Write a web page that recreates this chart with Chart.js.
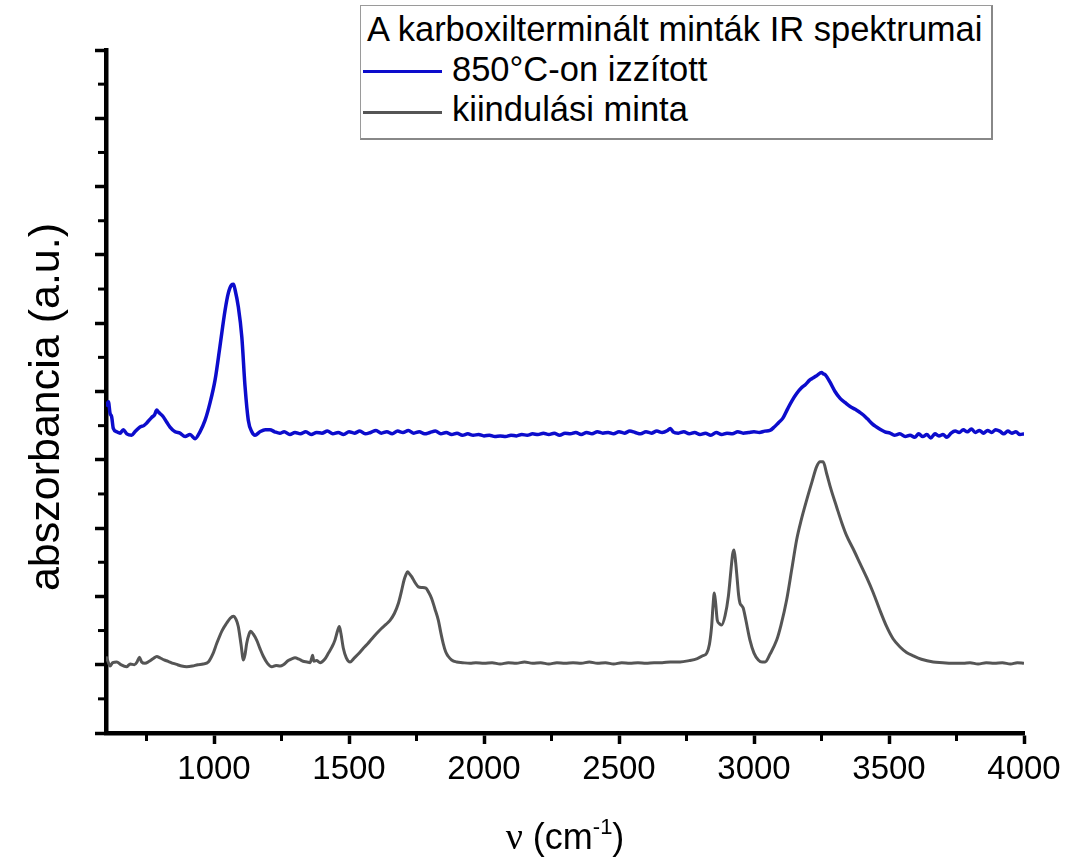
<!DOCTYPE html>
<html>
<head>
<meta charset="utf-8">
<script src="https://cdn.jsdelivr.net/npm/chart.js@4.4.1/dist/chart.umd.min.js"></script>
<style>
 body{margin:0;background:#fff;}
 #wrap{position:relative;width:1089px;height:865px;}
 #legend{position:absolute;left:360px;top:5px;width:633px;height:135px;box-sizing:border-box;border:1px solid #9a9a9a;border-right:2px solid #888;border-bottom:2px solid #888;background:#fff;font-family:"Liberation Sans",Arial,sans-serif;font-size:34.5px;color:#000;padding:3px 0 0 6px;}
 #legend .ttl{line-height:40px;white-space:nowrap;}
 #legend .row{display:flex;align-items:center;height:40.5px;white-space:nowrap;margin-left:-4px;}
 #legend .smp{width:79px;height:3px;margin-right:10px;margin-top:5px;}
</style>
</head>
<body>
<div id="wrap">
 <canvas id="ir_spektrum" width="1089" height="865"></canvas>
 <div id="legend"></div>
</div>
<script>
// hullamszam (cm-1) es abszorbancia, leolvasva
var wnIzzitott = [600,609,615,621,627,640,652,664,677,695,707,726,740,751,769,780,788,794,812,825,837,856,874,893,911,930,948,967,985,1004,1022,1041,1053,1065,1072,1078,1090,1103,1115,1127,1140,1152,1170,1190,1207,1225,1244,1260,1281,
	1300,1320,1340,1360,1380,1400,1420,1440,1460,1480,1500,1520,1540,1560,1580,1600,1620,1640,1660,1680,1700,1720,1740,1760,1780,1800,1820,1840,1860,1880,1900,1920,1940,1960,1980,
	2000,2020,2040,2060,2080,2100,2120,2140,2160,2180,2200,2220,2240,2260,2280,2300,2320,2340,2360,2380,2400,2420,2440,2460,2480,2500,2520,2540,2560,2580,2600,2620,2640,2660,2680,2690,
	2700,2720,2740,2760,2780,2800,2820,2840,2860,2880,2900,2920,2940,2960,2980,3000,3020,3040,3059,3075,3090,3107,3125,3140,3158,3175,3190,3207,3220,3235,3250,3256,3265,3281,3300,3319,3337,3356,3375,3390,
	3404,3420,3437,3454,3470,3485,3504,3520,3540,3560,3578,3595,3610,3625,3640,3655,3670,3685,3700,3715,3730,3745,3760,3775,3790,3805,3820,3835,3850,3865,3880,3895,3910,3925,3940,3955,3970,3985,4000];
var absIzzitott = [4.78,4.85,4.68,4.63,4.46,4.41,4.39,4.44,4.38,4.36,4.41,4.48,4.50,4.54,4.62,4.66,4.73,4.70,4.63,4.55,4.48,4.41,4.39,4.34,4.37,4.31,4.41,4.58,4.83,5.17,5.66,6.19,6.44,6.56,6.57,6.49,6.24,5.80,5.07,4.58,4.41,4.36,4.41,4.44,4.44,4.41,4.39,4.41,4.37,
	4.40,4.38,4.41,4.37,4.40,4.39,4.42,4.38,4.40,4.37,4.41,4.39,4.42,4.38,4.40,4.43,4.39,4.41,4.38,4.42,4.40,4.43,4.39,4.41,4.38,4.40,4.42,4.38,4.40,4.37,4.39,4.36,4.38,4.36,4.37,
	4.35,4.36,4.34,4.35,4.34,4.36,4.35,4.37,4.36,4.38,4.37,4.39,4.37,4.39,4.36,4.39,4.38,4.40,4.37,4.40,4.38,4.41,4.39,4.40,4.38,4.41,4.39,4.42,4.40,4.38,4.41,4.39,4.42,4.40,4.43,4.46,
	4.41,4.39,4.41,4.38,4.40,4.37,4.39,4.36,4.40,4.37,4.39,4.38,4.41,4.39,4.40,4.41,4.40,4.42,4.43,4.48,4.54,4.61,4.75,4.86,4.97,5.05,5.10,5.17,5.20,5.24,5.28,5.26,5.24,5.14,5.00,4.90,4.84,4.78,4.74,4.70,
	4.66,4.60,4.53,4.48,4.44,4.41,4.39,4.36,4.38,4.34,4.36,4.33,4.38,4.34,4.37,4.32,4.38,4.35,4.37,4.33,4.39,4.42,4.40,4.44,4.41,4.45,4.40,4.43,4.39,4.43,4.40,4.44,4.42,4.38,4.42,4.39,4.41,4.37,4.38];

var wnKiindulo = [600,608,615,625,640,655,676,690,705,715,724,732,744,760,775,788,800,815,830,849,865,880,899,920,940,960,979,995,1010,1030,1047,1060,1072,1082,1090,1100,1109,1115,1121,1130,1136,1145,1158,1170,1183,1198,1214,1230,1245,1257,1275,1290,1300,1315,1330,1345,1356,1362,1365,1370,1380,1393,1410,1424,1437,1448,1458,1464,1470,1479,1490,1504,1520,1538,1553,1570,1585,1603,1620,1637,1652,1668,1683,1694,1704,1711,1717,1724,1732,1745,1757,1770,1785,1795,1806,1818,1831,1840,1849,1858,1868,1880,1899,1920,1948,
	1970,2000,2030,2060,2090,2120,2150,2180,2210,2240,2270,2300,2330,2360,2390,2420,2450,2480,2510,2540,2570,2600,2630,2660,2690,2726,2760,2790,2810,2825,2835,2843,2848,2853,2858,2864,2872,2880,2893,2905,2915,2921,2926,2932,2938,2943,2948,2955,2960,2970,2985,3000,3016,3030,3041,3060,3084,3100,3121,3140,3158,3175,3195,3215,3232,3245,3256,3269,3285,3306,3325,3343,3368,3393,3418,3442,3466,3491,3515,3541,3565,3590,3620,3664,3700,3730,3775,3800,3830,3860,3890,3920,3950,3975,4000];
var absKiindulo = [1.12,1.04,0.98,1.03,1.04,1.00,0.97,1.01,1.00,1.04,1.11,1.04,1.02,1.05,1.09,1.12,1.10,1.07,1.05,1.02,1.00,0.98,0.97,0.98,1.00,1.01,1.04,1.15,1.31,1.50,1.61,1.68,1.71,1.66,1.56,1.30,1.07,1.15,1.31,1.45,1.49,1.45,1.36,1.24,1.12,1.02,0.97,0.99,0.98,1.00,1.06,1.09,1.10,1.08,1.05,1.04,1.03,1.10,1.14,1.05,1.06,1.03,1.08,1.17,1.26,1.36,1.50,1.56,1.46,1.24,1.10,1.04,1.10,1.17,1.24,1.31,1.38,1.46,1.53,1.59,1.65,1.75,1.90,2.07,2.24,2.32,2.36,2.33,2.29,2.20,2.14,2.13,2.12,2.06,1.97,1.82,1.65,1.47,1.31,1.19,1.12,1.07,1.04,1.03,1.02,
	1.03,1.02,1.03,1.01,1.03,1.02,1.04,1.02,1.03,1.01,1.03,1.02,1.03,1.02,1.04,1.02,1.03,1.01,1.03,1.02,1.03,1.02,1.03,1.03,1.04,1.04,1.06,1.09,1.13,1.17,1.30,1.56,1.85,2.05,1.90,1.65,1.60,1.58,1.72,2.00,2.40,2.62,2.68,2.50,2.24,2.02,1.90,1.86,1.83,1.65,1.36,1.17,1.07,1.04,1.04,1.16,1.36,1.58,1.95,2.40,2.83,3.12,3.41,3.68,3.90,3.97,3.97,3.80,3.57,3.31,3.08,2.89,2.69,2.48,2.27,2.05,1.80,1.56,1.38,1.26,1.18,1.13,1.08,1.04,1.03,1.02,1.02,1.03,1.01,1.03,1.02,1.03,1.01,1.03,1.02];

var sorozatNevek = ['850°C-on izzított', 'kiindulási minta'];
var szinek = ['#0c0ccc', '#555555'];
var legendCim = 'A karboxilterminált minták IR spektrumai';

var xFoTick = [1000,1500,2000,2500,3000,3500,4000];
var xMellekTick = [750,1250,1750,2250,2750,3250,3750];
var yFoTick = [0,1,2,3,4,5,6,7,8,9,10];
var yMellekTick = [0.5,1.5,2.5,3.5,4.5,5.5,6.5,7.5,8.5,9.5];

function pontok(xs, ys){
	var p = [];
	for (var i = 0; i < xs.length; i++) p.push({x: xs[i], y: ys[i]});
	return p;
}

var tengelyRajz = {
	id: 'tengelyRajz',
	afterDraw: function(chart){
		var ctx = chart.ctx, a = chart.chartArea;
		var sx = chart.scales.x, sy = chart.scales.y;
		ctx.save();
		ctx.strokeStyle = '#000';
		ctx.lineWidth = 3;
		// mellek tickek
		xMellekTick.forEach(function(v){
			var p = sx.getPixelForValue(v);
			ctx.beginPath(); ctx.moveTo(p, a.bottom + 2); ctx.lineTo(p, a.bottom + 8); ctx.stroke();
		});
		yMellekTick.forEach(function(v){
			var p = sy.getPixelForValue(v);
			ctx.beginPath(); ctx.moveTo(a.left - 2, p); ctx.lineTo(a.left - 8, p); ctx.stroke();
		});

		ctx.fillStyle = '#000';
		// y tengely cim
		ctx.save();
		ctx.translate(47, 407);
		ctx.rotate(-Math.PI / 2);
		ctx.font = '43px "Liberation Sans", Arial, sans-serif';
		ctx.textAlign = 'center';
		ctx.textBaseline = 'middle';
		ctx.fillText('abszorbancia (a.u.)', 0, 0);
		ctx.restore();

		// x tengely cim: ν (cm-1)
		var fSans = '36px "Liberation Sans", Arial, sans-serif';
		var fSerif = '38px "Liberation Serif", "Times New Roman", serif';
		var fSup = '22px "Liberation Sans", Arial, sans-serif';
		var darabok = [
			{t: 'ν', f: fSerif, dy: 0},
			{t: ' (cm', f: fSans, dy: 0},
			{t: '-1', f: fSup, dy: -15},
			{t: ')', f: fSans, dy: 0}
		];
		var w = 0;
		darabok.forEach(function(d){ ctx.font = d.f; d.w = ctx.measureText(d.t).width; w += d.w; });
		var x0 = (a.left + a.right) / 2 - w / 2;
		ctx.textAlign = 'left';
		ctx.textBaseline = 'alphabetic';
		darabok.forEach(function(d){ ctx.font = d.f; ctx.fillText(d.t, x0, 849 + d.dy); x0 += d.w; });
		ctx.restore();
	}
};

var chart = new Chart(document.getElementById('ir_spektrum'), {
	type: 'line',
	data: {
		datasets: [{
			label: sorozatNevek[0],
			data: pontok(wnIzzitott, absIzzitott),
			borderColor: szinek[0],
			borderWidth: 3.5,
			pointRadius: 0,
			cubicInterpolationMode: 'monotone',
			fill: false
		}, {
			label: sorozatNevek[1],
			data: pontok(wnKiindulo, absKiindulo),
			borderColor: szinek[1],
			borderWidth: 3,
			pointRadius: 0,
			cubicInterpolationMode: 'monotone',
			fill: false
		}]
	},
	options: {
		responsive: false,
		animation: false,
		layout: { padding: { top: 50, right: 65, left: 0, bottom: 0 } },
		plugins: { legend: { display: false }, tooltip: { enabled: false } },
		scales: {
			x: {
				type: 'linear',
				min: 600,
				max: 4000,
				afterBuildTicks: function(s){ s.ticks = xFoTick.map(function(v){ return {value: v}; }); },
				afterFit: function(s){ s.height = 132; },
				border: { display: true, color: '#000', width: 4.5 },
				grid: { display: true, drawOnChartArea: false, drawTicks: true, tickLength: 11, tickWidth: 3.5, tickColor: '#000' },
				ticks: { color: '#000', padding: 6, maxRotation: 0, font: { family: '"Liberation Sans", Arial, sans-serif', size: 33 },
					callback: function(v){ return String(v); } }
			},
			y: {
				type: 'linear',
				min: 0,
				max: 10,
				afterBuildTicks: function(s){ s.ticks = yFoTick.map(function(v){ return {value: v}; }); },
				afterFit: function(s){ s.width = 106; },
				border: { display: true, color: '#000', width: 4.5 },
				grid: { display: true, drawOnChartArea: false, drawTicks: true, tickLength: 11, tickWidth: 3.5, tickColor: '#000' },
				ticks: { display: false }
			}
		}
	},
	plugins: [tengelyRajz]
});

// jelmagyarazat
var html = '<div class="ttl">' + legendCim + '</div>';
for (var t = 0; t < chart.data.datasets.length; t++) {
	var ds = chart.data.datasets[t];
	html = html + '<div class="row"><span class="smp" style="background:' + ds.borderColor + '"></span>' + ds.label + '</div>';
}
document.getElementById('legend').innerHTML = html;
</script>
</body>
</html>
